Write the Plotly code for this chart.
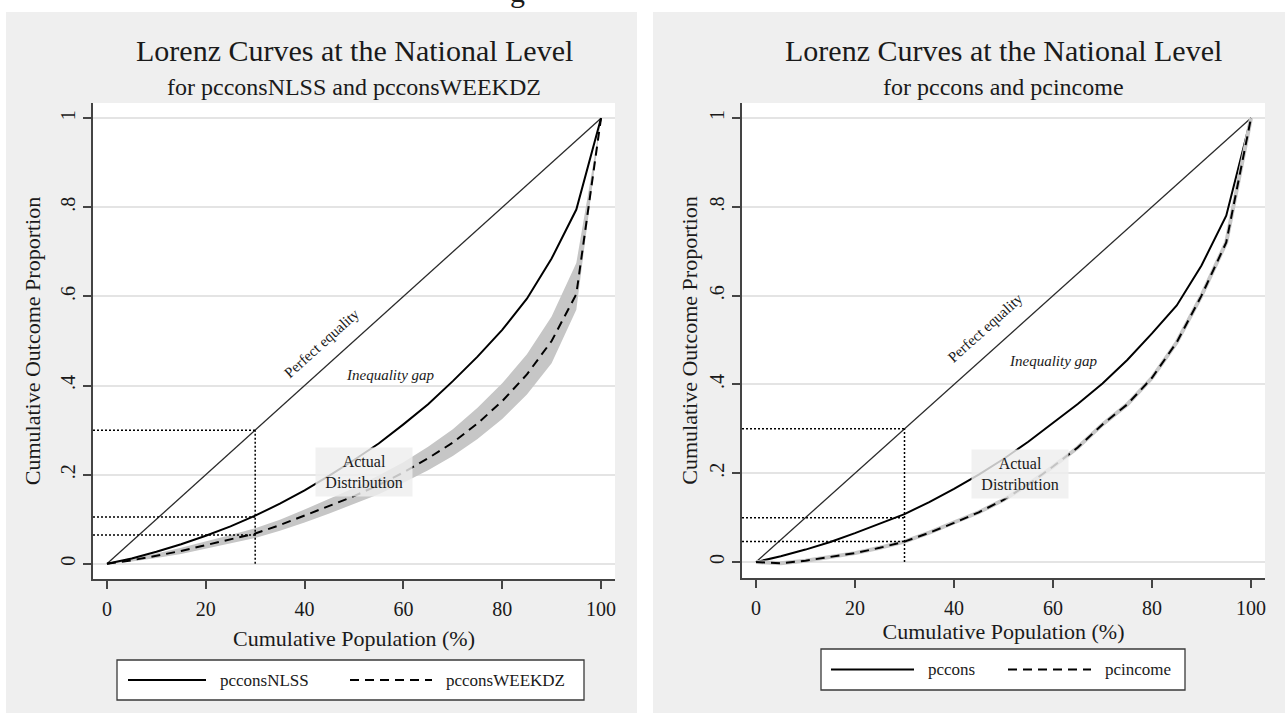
import plotly.graph_objects as go

W, H = 1285, 713
SERIF = "Liberation Serif, Times New Roman, serif"

# ---- data -------------------------------------------------------------
pop = [0, 5, 10, 15, 20, 25, 30, 35, 40, 45, 50, 55, 60, 65, 70, 75, 80, 85, 90, 95, 100]

nlss = [0, 0.012, 0.027, 0.044, 0.063, 0.084, 0.108, 0.135, 0.165, 0.198, 0.233, 0.270,
        0.313, 0.358, 0.410, 0.465, 0.525, 0.595, 0.685, 0.795, 1.0]
weekdz = [0, 0.008, 0.018, 0.029, 0.042, 0.055, 0.068, 0.087, 0.108, 0.130, 0.152, 0.177,
          0.205, 0.237, 0.272, 0.315, 0.365, 0.425, 0.500, 0.605, 1.0]
weekdz_lo = [0, 0.005, 0.013, 0.022, 0.034, 0.046, 0.058, 0.074, 0.093, 0.113, 0.134, 0.156,
             0.182, 0.210, 0.242, 0.280, 0.325, 0.380, 0.450, 0.570, 1.0]
weekdz_hi = [0, 0.011, 0.023, 0.036, 0.050, 0.065, 0.080, 0.099, 0.122, 0.146, 0.170, 0.198,
             0.228, 0.263, 0.302, 0.350, 0.405, 0.470, 0.555, 0.675, 1.0]

pccons = [0, 0.013, 0.028, 0.045, 0.065, 0.086, 0.108, 0.135, 0.165, 0.197, 0.232, 0.271,
          0.313, 0.356, 0.402, 0.455, 0.515, 0.578, 0.668, 0.780, 1.0]
pcincome = [0, -0.003, 0.003, 0.011, 0.020, 0.032, 0.046, 0.066, 0.088, 0.112, 0.140, 0.175,
            0.215, 0.258, 0.310, 0.355, 0.415, 0.495, 0.600, 0.720, 1.0]

equality_x = [0, 100]
equality_y = [0, 1]

ref_pop = 30
left_levels = [0.3, 0.105, 0.065]
right_levels = [0.3, 0.10, 0.046]

x_tickvals = [0, 20, 40, 60, 80, 100]
x_ticktext = ["0", "20", "40", "60", "80", "100"]
y_tickvals = [0, 0.2, 0.4, 0.6, 0.8, 1.0]
y_ticktext = ["0", ".2", ".4", ".6", ".8", "1"]

X_RANGE = [-2.83, 102.83]


def px(x):
    return x / W


def py(y):
    return 1 - y / H


fig = go.Figure()


def add_panel(xa, ya, curve_a, curve_b, levels, band=None, halo=False):
    if band is not None:
        lo, hi = band
        fig.add_trace(go.Scatter(
            x=pop + pop[::-1], y=hi + lo[::-1], fill="toself",
            fillcolor="#c6c6c6", line=dict(width=0), mode="lines",
            hoverinfo="skip", showlegend=False, xaxis=xa, yaxis=ya))
    fig.add_trace(go.Scatter(
        x=equality_x, y=equality_y, mode="lines",
        line=dict(color="#2b2b2b", width=1.3), showlegend=False,
        xaxis=xa, yaxis=ya))
    fig.add_trace(go.Scatter(
        x=pop, y=curve_a, mode="lines",
        line=dict(color="black", width=2), showlegend=False,
        xaxis=xa, yaxis=ya))
    if halo:
        fig.add_trace(go.Scatter(
            x=pop, y=curve_b, mode="lines",
            line=dict(color="#c8c8c8", width=4), showlegend=False,
            hoverinfo="skip", xaxis=xa, yaxis=ya))
    fig.add_trace(go.Scatter(
        x=pop, y=curve_b, mode="lines",
        line=dict(color="black", width=2, dash="9px,6px"), showlegend=False,
        xaxis=xa, yaxis=ya))
    dot = dict(color="black", width=1.5, dash="2px,2px")
    for lv in levels:
        fig.add_trace(go.Scatter(
            x=[X_RANGE[0], ref_pop], y=[lv, lv], mode="lines", line=dot,
            showlegend=False, hoverinfo="skip", xaxis=xa, yaxis=ya))
    fig.add_trace(go.Scatter(
        x=[ref_pop, ref_pop], y=[0, max(levels)], mode="lines", line=dot,
        showlegend=False, hoverinfo="skip", xaxis=xa, yaxis=ya))


add_panel("x", "y", nlss, weekdz, left_levels, band=(weekdz_lo, weekdz_hi))
add_panel("x2", "y2", pccons, pcincome, right_levels, halo=True)

# ---- panels -------------------------------------------------------------
panels = [
    dict(bg=(6, 12, 637, 713), plot=(93, 103, 615, 579), yr=[-0.034, 1.034],
         ytitle_standoff=11, xtitle_standoff=12),
    dict(bg=(653, 12, 1285, 713), plot=(742, 103, 1265, 578), yr=[-0.036, 1.034],
         ytitle_standoff=3, xtitle_standoff=1),
]

shapes = []
for p in panels:
    x0, y0, x1, y1 = p["bg"]
    shapes.append(dict(type="rect", xref="paper", yref="paper", layer="below",
                       x0=px(x0), x1=px(x1), y0=py(y1), y1=py(y0),
                       fillcolor="#efefef", line=dict(width=0)))
    x0, y0, x1, y1 = p["plot"]
    shapes.append(dict(type="rect", xref="paper", yref="paper", layer="below",
                       x0=px(x0), x1=px(x1), y0=py(y1), y1=py(y0),
                       fillcolor="white", line=dict(width=0)))

axis_common = dict(showline=True, linecolor="#444444", linewidth=1.6,
                   ticks="outside", ticklen=8, tickwidth=1.6, tickcolor="#444444",
                   zeroline=False, mirror=False,
                   tickfont=dict(family=SERIF, size=20, color="#1a1a1a"))

for i, p in enumerate(panels):
    sx = "" if i == 0 else str(i + 1)
    x0, y0, x1, y1 = p["plot"]
    fig.layout["xaxis" + sx] = dict(
        axis_common, domain=[px(x0), px(x1)], range=X_RANGE, anchor="y" + sx,
        tickvals=x_tickvals, ticktext=x_ticktext, showgrid=False,
        ticklabelstandoff=3,
        title=dict(text="Cumulative Population (%)", standoff=p["xtitle_standoff"],
                   font=dict(family=SERIF, size=22, color="#1a1a1a")))
    fig.layout["yaxis" + sx] = dict(
        axis_common, domain=[py(y1), py(y0)], range=p["yr"], anchor="x" + sx,
        tickvals=y_tickvals, ticktext=y_ticktext, tickangle=-90,
        showgrid=True, gridcolor="#e4e4e4", gridwidth=1.5,
        title=dict(text="Cumulative Outcome Proportion", standoff=p["ytitle_standoff"],
                   font=dict(family=SERIF, size=22, color="#1a1a1a")))

# ---- text ------------------------------------------------------------------
ann = []
titles = [("for pcconsNLSS and pcconsWEEKDZ", 354), ("for pccons and pcincome", 1003.5)]
for sub, cx in titles:
    ann.append(dict(text="Lorenz Curves at the National Level", x=px(cx), y=py(50),
                    xref="paper", yref="paper", showarrow=False, xanchor="center",
                    yanchor="middle", font=dict(family=SERIF, size=30, color="#1a1a1a")))
    ann.append(dict(text=sub, x=px(cx), y=py(87), xref="paper", yref="paper",
                    showarrow=False, xanchor="center", yanchor="middle",
                    font=dict(family=SERIF, size=24, color="#1a1a1a")))

# fragment of the page caption cut at the top edge
ann.append(dict(text="g", x=px(517), y=py(10), xref="paper", yref="paper",
                showarrow=False, xanchor="center", yanchor="bottom",
                font=dict(family=SERIF, size=30, color="#1a1a1a")))

labels = [
    ("x", "y", (43.5, 0.496), (57.3, 0.424), (52.0, 0.206)),
    ("x2", "y2", (46.3, 0.527), (60.2, 0.453), (53.3, 0.198)),
]
for xa, ya, pe, ig, ad in labels:
    ann.append(dict(text="Perfect equality", x=pe[0], y=pe[1], xref=xa, yref=ya,
                    showarrow=False, textangle=-42,
                    font=dict(family=SERIF, size=15, color="#1a1a1a")))
    ann.append(dict(text="<i>Inequality gap</i>", x=ig[0], y=ig[1], xref=xa, yref=ya,
                    showarrow=False, font=dict(family=SERIF, size=15, color="#1a1a1a")))
    ann.append(dict(text="Actual<br>Distribution", x=ad[0], y=ad[1], xref=xa, yref=ya,
                    showarrow=False, bgcolor="rgba(238,238,238,0.82)", width=96, height=48,
                    borderpad=0, font=dict(family=SERIF, size=16, color="#1a1a1a")))

# ---- legends (boxed key below each plot) -------------------------------------
legends = [
    dict(box=(117, 660, 584, 700), solid=(128, 206), dashed=(350, 432),
         names=("pcconsNLSS", "pcconsWEEKDZ"), text_x=(218, 444)),
    dict(box=(821, 649, 1185, 690), solid=(831, 914), dashed=(1008, 1091),
         names=("pccons", "pcincome"), text_x=(926, 1103)),
]
for lg in legends:
    x0, y0, x1, y1 = lg["box"]
    cy = (y0 + y1) / 2
    shapes.append(dict(type="rect", xref="paper", yref="paper",
                       x0=px(x0), x1=px(x1), y0=py(y1), y1=py(y0),
                       fillcolor="white", line=dict(color="#3a3a3a", width=1.3)))
    shapes.append(dict(type="line", xref="paper", yref="paper",
                       x0=px(lg["solid"][0]), x1=px(lg["solid"][1]), y0=py(cy), y1=py(cy),
                       line=dict(color="black", width=2)))
    shapes.append(dict(type="line", xref="paper", yref="paper",
                       x0=px(lg["dashed"][0]), x1=px(lg["dashed"][1]), y0=py(cy), y1=py(cy),
                       line=dict(color="black", width=2, dash="9px,6px")))
    for name, tx in zip(lg["names"], lg["text_x"]):
        ann.append(dict(text=name, x=px(tx), y=py(cy), xref="paper", yref="paper",
                        showarrow=False, xanchor="left", yanchor="middle",
                        font=dict(family=SERIF, size=17, color="#1a1a1a")))

fig.update_layout(
    width=W, height=H, margin=dict(l=0, r=0, t=0, b=0),
    paper_bgcolor="white", plot_bgcolor="white",
    shapes=shapes, annotations=ann, showlegend=False,
    font=dict(family=SERIF, color="#1a1a1a"),
)

fig.write_html("out.html")
